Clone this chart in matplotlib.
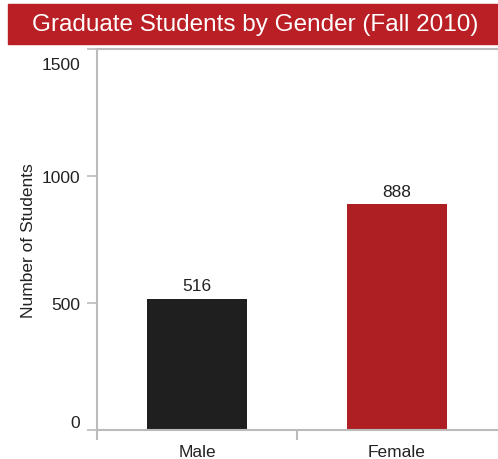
import matplotlib
matplotlib.use("Agg")
import matplotlib.pyplot as plt
import matplotlib.transforms as mtransforms
from matplotlib.patches import Rectangle

categories = ["Male", "Female"]
values = [516, 888]
bar_colors = ["#1f1f1f", "#ae1f24"]
yticks = [0, 500, 1000, 1500]
title = "Graduate Students by Gender (Fall 2010)"
ylabel = "Number of Students"

plt.rcParams['font.family'] = ['Liberation Sans', 'DejaVu Sans']

fig = plt.figure(figsize=(4.98, 4.60), dpi=100)
W, H = 498, 460

# Title banner
fig.patches.append(Rectangle((8 / W, 1 - 45 / H), 1 - 8 / W, 40 / H,
                             transform=fig.transFigure, color="#b91f24", zorder=0))
fig.text(255 / W, 1 - 25 / H, title, color="white", fontsize=17.5,
         ha="center", va="center")

ax = fig.add_axes([97 / W, 1 - 431 / H, 400 / W, 381 / H])
x = list(range(len(categories)))
ax.bar(x, values, width=0.5, color=bar_colors)
ax.set_xlim(-0.5, len(categories) - 0.5)
ax.set_ylim(0, 1500)

ax.set_yticks(yticks)
ax.set_yticklabels([str(t) for t in yticks], fontsize=12.5, color="#222222")
ax.set_xticks([i - 0.5 for i in x])
ax.set_xticklabels([])
ax.set_xticks(x, minor=True)
ax.set_xticklabels(categories, minor=True, fontsize=12.5, color="#222222")
ax.tick_params(axis="x", which="minor", length=0, pad=10)
ax.tick_params(axis="x", which="major", length=7, color="#bbbbbb", width=1.5)
ax.tick_params(axis="y", length=7, color="#bbbbbb", width=1.2, pad=5)

offsets = [9, 0, 0, -14]
for lbl, dy in zip(ax.get_yticklabels(), offsets):
    lbl.set_transform(lbl.get_transform() +
                      mtransforms.ScaledTranslation(0, dy / 100, fig.dpi_scale_trans))

for s in ["left", "bottom", "top"]:
    ax.spines[s].set_color("#bbbbbb")
    ax.spines[s].set_linewidth(1.5)
ax.spines["right"].set_visible(False)

ax.set_ylabel(ylabel, fontsize=12.5, color="#222222", labelpad=4)

for xi, v in zip(x, values):
    ax.annotate(str(v), (xi, v), xytext=(0, 4), textcoords="offset points",
                ha="center", va="bottom", fontsize=12.5, color="#222222")

fig.savefig("out.png", dpi=100)
